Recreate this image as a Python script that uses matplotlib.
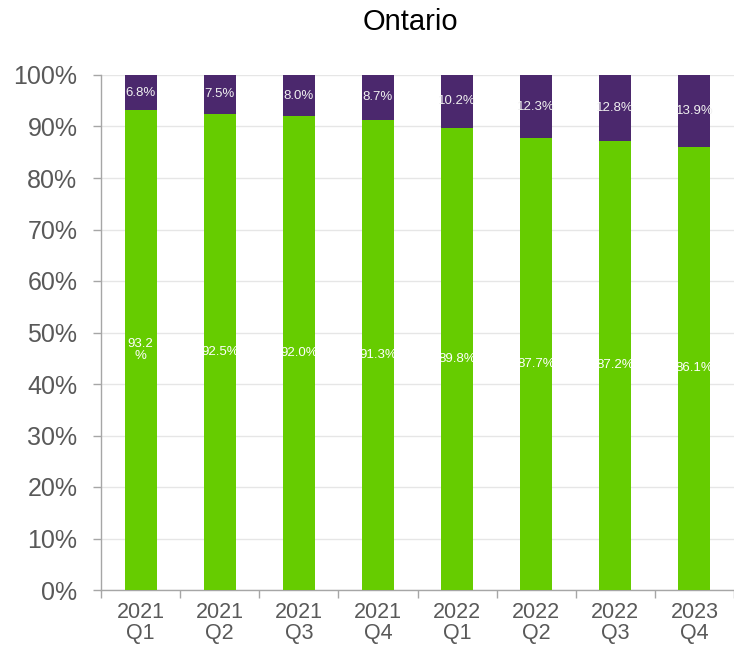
import matplotlib
matplotlib.use("Agg")
import matplotlib.pyplot as plt
import numpy as np

# Quarterly shares for Ontario
quarters = ["2021\nQ1", "2021\nQ2", "2021\nQ3", "2021\nQ4",
            "2022\nQ1", "2022\nQ2", "2022\nQ3", "2023\nQ4"]
green_share = [93.2, 92.5, 92.0, 91.3, 89.8, 87.7, 87.2, 86.1]
purple_share = [6.8, 7.5, 8.0, 8.7, 10.2, 12.3, 12.8, 13.9]
y_ticks = [0, 10, 20, 30, 40, 50, 60, 70, 80, 90, 100]

GREEN = "#66CC00"
PURPLE = "#4B286D"
TEXT_GRAY = "#595959"
AXIS_GRAY = "#A6A6A6"

plt.rcParams["font.family"] = ["Liberation Sans", "DejaVu Sans"]

fig = plt.figure(figsize=(7.34, 6.48), dpi=100)
ax = fig.add_axes([101 / 734, 58 / 648, 633 / 734, 515 / 648])

x = np.arange(len(quarters))
width = 0.405
ax.bar(x, green_share, width, color=GREEN, zorder=3)
ax.bar(x, purple_share, width, bottom=green_share, color=PURPLE, zorder=3)

# Segment value labels
for xi, g, p in zip(x, green_share, purple_share):
    g_text = f"{g:.1f}%"
    if xi == 0:
        g_text = f"{g:.1f}\n%"
    ax.text(xi, g / 2, g_text, ha="center", va="center", color="white",
            fontsize=9.5, linespacing=1.1, zorder=4)
    ax.text(xi, g + p / 2, f"{p:.1f}%", ha="center", va="center",
            color="#F0F0F0", fontsize=9.5, zorder=4)

ax.set_xlim(-0.5, len(quarters) - 0.5)
ax.set_ylim(0, 100)

ax.set_yticks(y_ticks)
ax.set_yticklabels([f"{v}%" for v in y_ticks])
ax.yaxis.grid(True, color="#E6E6E6", linewidth=1, zorder=0)
ax.set_axisbelow(True)

# Category boundaries carry tick marks; labels sit at the category centres
ax.set_xticks(np.arange(len(quarters) + 1) - 0.5)
ax.set_xticklabels([])
ax.set_xticks(x, minor=True)
ax.set_xticklabels(quarters, minor=True, fontsize=15.5, color=TEXT_GRAY,
                   linespacing=1.0)
ax.tick_params(axis="x", which="major", length=6, color=AXIS_GRAY, width=1)
ax.tick_params(axis="x", which="minor", length=0, pad=9)
ax.tick_params(axis="y", length=6, color=AXIS_GRAY, width=1, pad=11,
               labelsize=18, labelcolor=TEXT_GRAY)

for side in ("top", "right"):
    ax.spines[side].set_visible(False)
for side in ("left", "bottom"):
    ax.spines[side].set_color(AXIS_GRAY)
    ax.spines[side].set_linewidth(1)

fig.text(410 / 734, 1 - 22 / 648, "Ontario", ha="center", va="center",
         fontsize=21, color="black")

fig.savefig("out.png", dpi=100)
